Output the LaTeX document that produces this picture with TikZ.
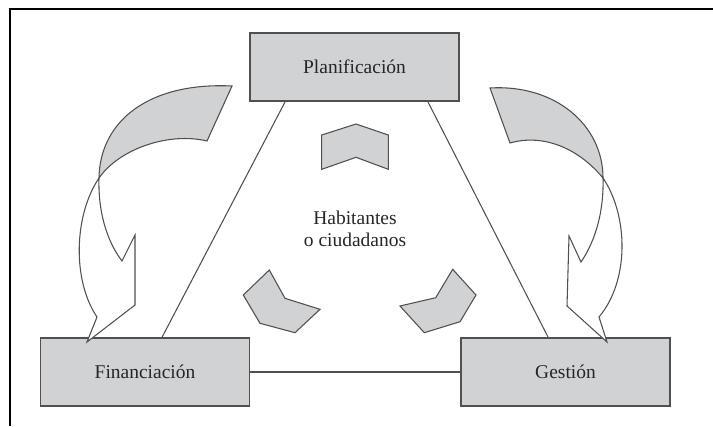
\documentclass[tikz,border=0pt]{standalone}
\usepackage{fontspec}
\setmainfont{Liberation Serif}
\definecolor{boxgray}{RGB}{209,210,212}
\definecolor{edgegray}{RGB}{80,80,80}

\begin{document}
\begin{tikzpicture}[x=0.75pt,y=-0.75pt,
    box/.style={draw=edgegray,line width=1pt,fill=boxgray,minimum width=156.75pt,
      minimum height=51pt,text=black!85,font=\fontsize{14.6}{16.5}\selectfont},
    link/.style={draw=edgegray,line width=0.8pt},
    band/.style={draw=edgegray,line width=0.8pt},
    chev/.style={draw=edgegray,line width=0.8pt,fill=boxgray}]
  \useasboundingbox (0,0) rectangle (713,426);
  \draw[line width=1.5pt] (10,426) -- (10,9) -- (713,9);

  \node[box] (Plan) at (354.5,67)  {Planificación};
  \node[box] (Fin)  at (145,372)   {Financiación};
  \node[box] (Gest) at (565.5,372) {Gestión};
  \node[align=center,text=black!85,font=\fontsize{14.6}{16.5}\selectfont]
    (Hab) at (355,229) {Habitantes\\o ciudadanos};

  \draw[link] ([xshift=-52pt]Plan.south) -- ([xshift=12.75pt]Fin.north);
  \draw[link] ([xshift=55pt]Plan.south)  -- ([xshift=-13pt]Gest.north);
  \draw[link] (Fin.east) -- (Gest.west);

  % left arrow
  \coordinate (LeftX) at (99,178);
  \draw[band,fill=boxgray] (LeftX) .. controls (100,120) and (150,82) .. (232,86)
    -- (207,141) .. controls (170,132) and (120,148) .. (LeftX) -- cycle;
  \draw[band,fill=white] (LeftX) .. controls (74,215) and (72,280) .. (97,317)
    -- (87,342) -- (135,305) -- (135,235) -- (122,261)
    .. controls (106,240) and (98,210) .. (LeftX) -- cycle;

  % right arrow
  \coordinate (RightX) at (603,178);
  \draw[band,fill=boxgray] (RightX) .. controls (603,125) and (555,84) .. (490,88)
    -- (510,143) .. controls (545,133) and (580,150) .. (RightX) -- cycle;
  \draw[band,fill=white] (RightX) .. controls (628,215) and (630,280) .. (599,317)
    -- (607,342) -- (567,306) -- (569,236) -- (581,262)
    .. controls (596,240) and (604,210) .. (RightX) -- cycle;

  % small arrows round the centre
  \draw[chev] (321.7,135) -- (356,124) -- (388.3,135) -- (388.3,169.3)
    -- (356,157.3) -- (321.7,169.3) -- cycle;
  \draw[chev] (243.3,295) -- (269.3,270) -- (285,298.3) -- (320,309.3)
    -- (295,332.7) -- (260,323.3) -- cycle;
  \draw[chev] (400,306) -- (435.7,297.7) -- (452.7,269.3) -- (476,295)
    -- (460,321.7) -- (424.3,332.7) -- cycle;
\end{tikzpicture}
\end{document}
